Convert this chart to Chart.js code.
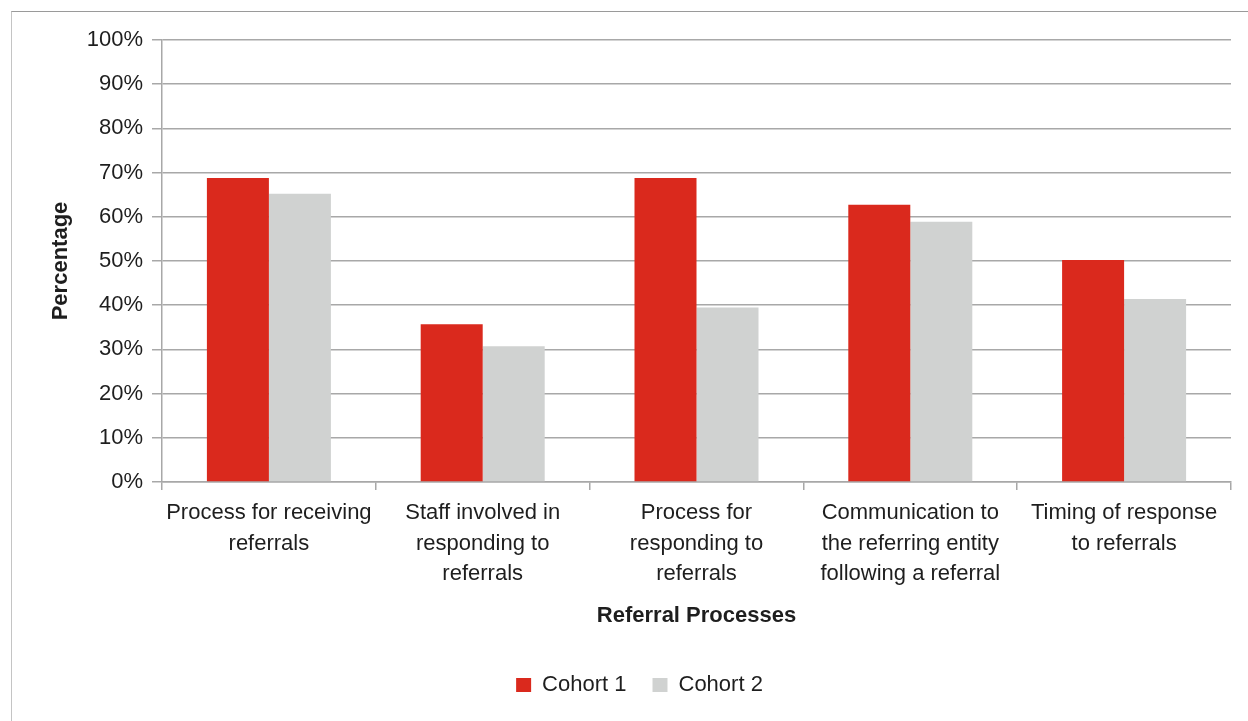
<!DOCTYPE html>
<html>
<head>
<meta charset="utf-8">
<script src="https://cdn.jsdelivr.net/npm/chart.js@4"></script>
<style>
	body { margin: 0; background: #fff; }
	#wrap { position: relative; width: 1248px; height: 721px; }
	#frame { position: absolute; left: 11px; top: 11px; right: 0; bottom: 0; border-left: 1px solid #c4c4c4; border-top: 1px solid #9a9a9a; }
	#chart { position: absolute; left: 0; top: 0; }
</style>
</head>
<body>
<div id="wrap">
	<div id="frame"></div>
	<canvas id="chart" width="1248" height="721"></canvas>
</div>
<script>
// Data
const categories = [
	["Process for receiving", "referrals"],
	["Staff involved in", "responding to", "referrals"],
	["Process for", "responding to", "referrals"],
	["Communication to", "the referring entity", "following a referral"],
	["Timing of response", "to referrals"],
];
const cohort1 = [68.8, 35.7, 68.8, 62.7, 50.2];
const cohort2 = [65.2, 30.7, 39.5, 58.9, 41.4];
const yTicks = [0, 10, 20, 30, 40, 50, 60, 70, 80, 90, 100];

const textColor = "#1e1e1e";
const gridColor = "#a8a8a8";
const fontFamily = "'Liberation Sans', Arial, sans-serif";

Chart.defaults.font.family = fontFamily;
Chart.defaults.color = textColor;

const ctx = document.getElementById("chart").getContext("2d");

new Chart(ctx, {
	type: "bar",
	data: {
		labels: categories,
		datasets: [
			{
				label: "Cohort 1",
				data: cohort1,
				backgroundColor: "#da291d",
			},
			{
				label: "Cohort 2",
				data: cohort2,
				backgroundColor: "#d0d2d1",
			},
		],
	},
	options: {
		responsive: false,
		animation: false,
		categoryPercentage: 0.58,
		barPercentage: 1,
		layout: {
			padding: { left: 48, right: 17, top: 40, bottom: 15 },
		},
		scales: {
			y: {
				min: 0,
				max: 100,
				afterBuildTicks: function (scale) {
					scale.ticks = yTicks.map((v) => ({ value: v }));
				},
				afterFit: function (scale) {
					scale.width = 114;
				},
				ticks: {
					padding: 9,
					font: { size: 22 },
					callback: function (value) {
						return value + "%";
					},
				},
				grid: {
					color: gridColor,
					lineWidth: 1.5,
					tickLength: 10,
				},
				border: { color: gridColor, width: 1.5 },
				title: {
					display: true,
					text: "Percentage",
					font: { size: 22, weight: "bold" },
					padding: 0,
				},
			},
			x: {
				afterFit: function (scale) {
					scale.height = 166;
				},
				ticks: {
					padding: 8,
					maxRotation: 0,
					autoSkip: false,
					font: { size: 22, lineHeight: 1.38 },
				},
				grid: {
					offset: true,
					drawOnChartArea: false,
					color: gridColor,
					lineWidth: 1.5,
					tickLength: 8,
				},
				border: { color: gridColor, width: 1.5 },
				title: {
					display: true,
					text: "Referral Processes",
					font: { size: 22, weight: "bold" },
					padding: { top: 0, bottom: 19 },
				},
			},
		},
		plugins: {
			tooltip: { enabled: false },
			legend: {
				position: "bottom",
				labels: {
					boxWidth: 15,
					boxHeight: 14,
					padding: 26,
					font: { size: 22 },
				},
			},
		},
	},
});
</script>
</body>
</html>
